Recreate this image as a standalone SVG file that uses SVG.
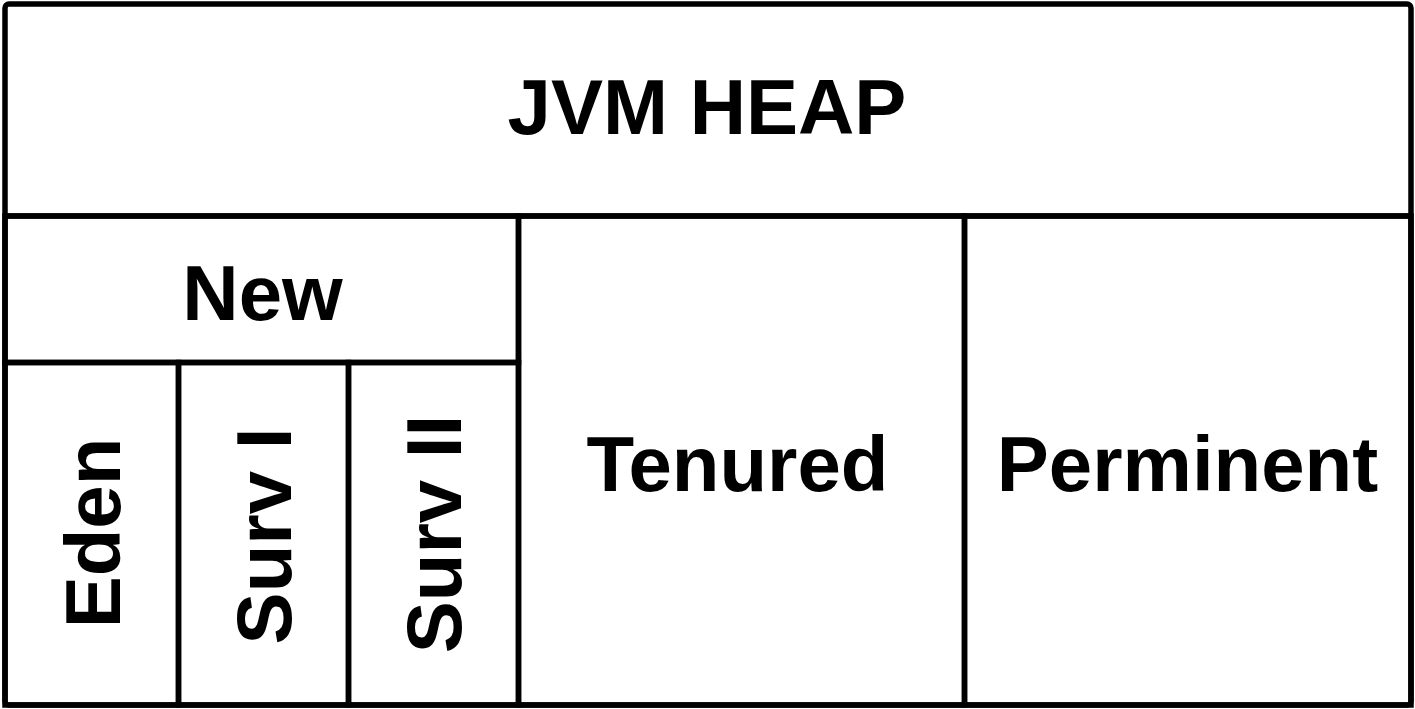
<svg xmlns="http://www.w3.org/2000/svg" width="1415" height="709" viewBox="0 0 1415 709">
  <style>
    .box { fill: none; stroke: #000; stroke-width: 5.5; stroke-linejoin: miter; }
    .lbl { font-family: "Liberation Sans", Arial, sans-serif; font-weight: bold; font-size: 78px; fill: #000; text-anchor: middle; }
  </style>
  <rect x="0" y="0" width="1415" height="709" fill="#fff"/>
  <g id="heap">
    <rect class="box" x="5" y="4" width="1406" height="701" rx="4"/>
    <line class="box" x1="5" y1="216" x2="1411" y2="216"/>
    <text class="lbl" x="707" y="134">JVM HEAP</text>
  </g>
  <g id="new">
    <rect class="box" x="5" y="216" width="513.5" height="146.5"/>
    <text class="lbl" x="262.5" y="320">New</text>
  </g>
  <g id="eden">
    <rect class="box" x="5" y="362.5" width="173.5" height="342.5"/>
    <text class="lbl" transform="translate(120,533) rotate(-90)">Eden</text>
  </g>
  <g id="surv1">
    <rect class="box" x="178.5" y="362.5" width="170" height="342.5"/>
    <text class="lbl" transform="translate(290.5,536) rotate(-90)">Surv I</text>
  </g>
  <g id="surv2">
    <rect class="box" x="348.5" y="362.5" width="170" height="342.5"/>
    <text class="lbl" transform="translate(460.5,534) rotate(-90)">Surv II</text>
  </g>
  <g id="tenured">
    <rect class="box" x="518.5" y="216" width="446" height="489"/>
    <text class="lbl" x="737.5" y="491">Tenured</text>
  </g>
  <g id="perminent">
    <rect class="box" x="964.5" y="216" width="446.5" height="489"/>
    <text class="lbl" x="1187.5" y="491">Perminent</text>
  </g>
  <g id="connectors"></g>
</svg>
